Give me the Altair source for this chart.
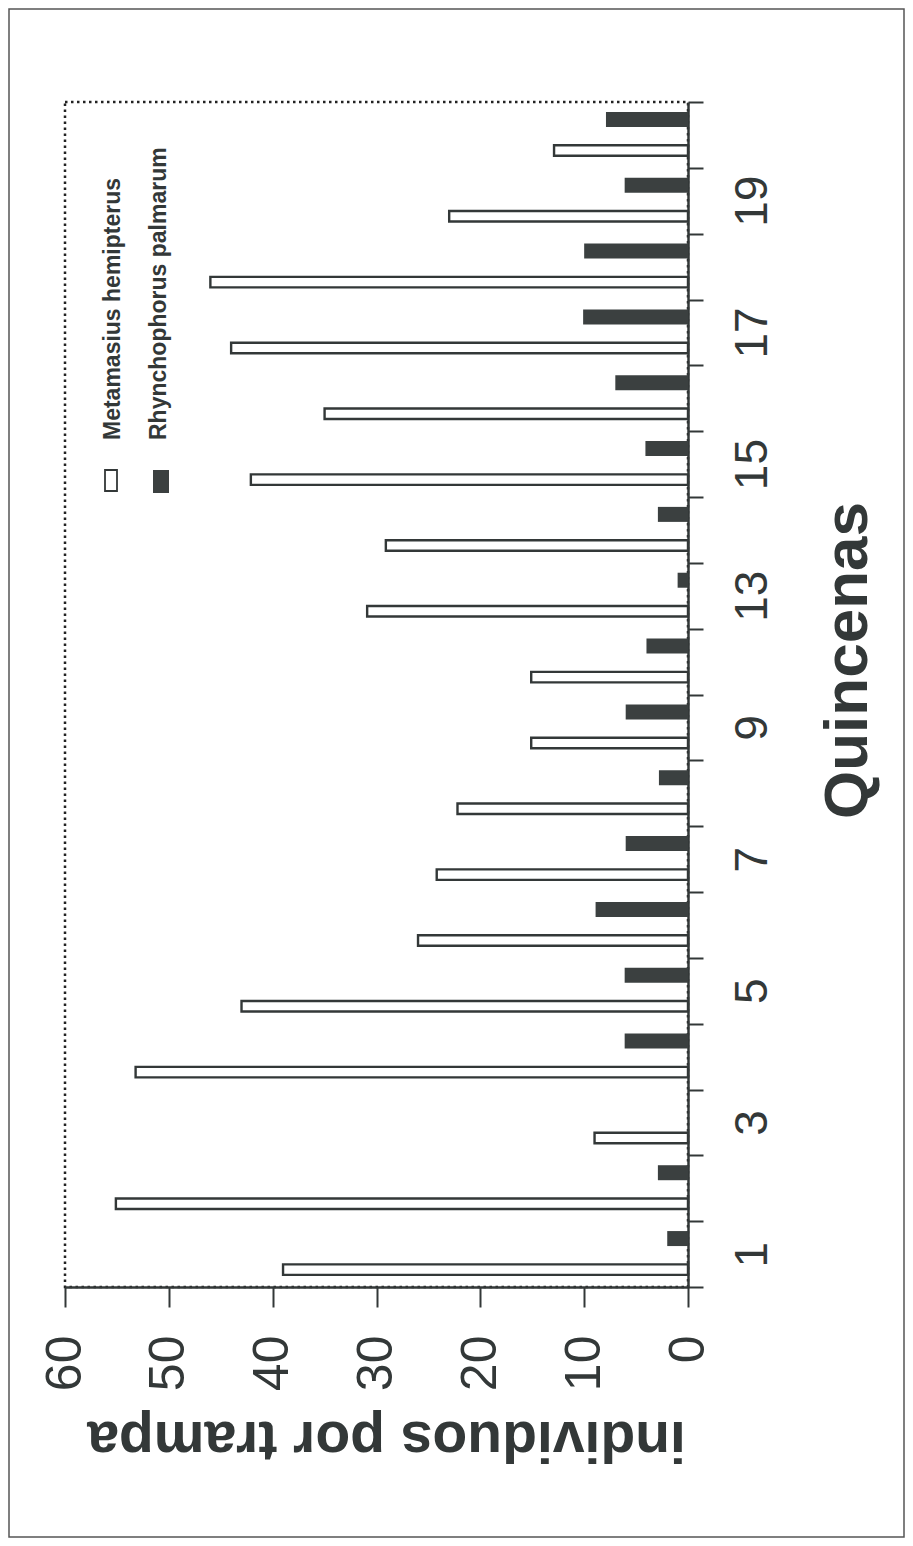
import altair as alt
import pandas as pd

# ---- data ----
quincenas = list(range(1, 21))
metamasius = [39.0, 55.1, 9.0, 53.2, 43.0, 26.0, 24.2, 22.2, 15.1, 15.1,
              0, 0, 30.9, 29.1, 42.1, 35.0, 44.0, 46.0, 23.0, 12.9]
rhynchophorus = [2.0, 2.9, 0, 6.1, 6.1, 8.9, 6.0, 2.8, 6.0, 4.0,
                 0, 0, 1.0, 2.9, 4.1, 7.0, 10.1, 10.0, 6.1, 7.9]
series = ["Metamasius hemipterus", "Rhynchophorus palmarum"]
value_ticks = [0, 10, 20, 30, 40, 50, 60]

FONT = "Liberation Sans, Arial, Helvetica, sans-serif"
INK = "#333838"
DARK = "#3b4040"
W, H = 623, 1185

df = pd.DataFrame({
    "quincena": quincenas * 2,
    "valor": metamasius + rhynchophorus,
    "especie": [series[0]] * len(quincenas) + [series[1]] * len(quincenas),
})
legend_df = pd.DataFrame({"especie": series})
frame_df = pd.DataFrame({"k": [0]})

x_enc = alt.X(
    "valor:Q",
    scale=alt.Scale(domain=[0, 60], reverse=True, nice=False, zero=True),
    axis=alt.Axis(
        values=value_ticks, grid=False,
        tickSize=20, tickWidth=2, tickColor=INK,
        domainColor=INK, domainWidth=2.5,
        labelAngle=270, labelAlign="right", labelBaseline="middle",
        labelFontSize=50, labelFont=FONT, labelColor=INK, labelPadding=28,
        labelOverlap=False, labelFlush=False,
        title="individuos por trampa", titleAngle=180, titleFontSize=57,
        titleFont=FONT, titleFontWeight="bold", titleColor=INK,
        titleX=321, titleY=134, titleAlign="center", titleBaseline="alphabetic",
    ),
)
y_enc = alt.Y(
    "quincena:O", sort="descending",
    scale=alt.Scale(paddingInner=0, paddingOuter=0),
    axis=alt.Axis(
        orient="right", grid=False, tickBand="extent",
        tickSize=15, tickWidth=2, tickColor=INK,
        domainColor=INK, domainWidth=2.5,
        labelExpr="datum.value % 2 == 1 ? datum.label : ''",
        labelAngle=270, labelAlign="center", labelBaseline="top",
        labelFontSize=46, labelFont=FONT, labelColor=INK, labelPadding=27,
        labelOverlap=False,
        title="Quincenas", titleAngle=270, titleFontSize=62, titleFont=FONT,
        titleFontWeight="bold", titleColor=INK,
        titleX=178, titleY=558, titleAlign="center", titleBaseline="alphabetic",
    ),
)
yoff_enc = alt.YOffset(
    "especie:N",
    scale=alt.Scale(domain=[series[1], series[0]], paddingInner=0.5, paddingOuter=0.31),
)

base = alt.Chart(df).encode(x=x_enc, y=y_enc, yOffset=yoff_enc)

white_bars = base.transform_filter(
    (alt.datum.especie == series[0]) & (alt.datum.valor > 0)
).mark_bar(fill="white", stroke=INK, strokeWidth=2.4, size=10.5)

dark_bars = base.transform_filter(
    (alt.datum.especie == series[1]) & (alt.datum.valor > 0)
).mark_bar(fill=DARK, size=15)

# manual legend (rotated like the rest of the figure)
leg_box_white = alt.Chart(legend_df).transform_filter(
    alt.datum.especie == series[0]
).mark_rect(fill="white", stroke=INK, strokeWidth=1.8).encode(
    x=alt.value(40), x2=alt.value(52), y=alt.value(368), y2=alt.value(389)
)
leg_box_dark = alt.Chart(legend_df).transform_filter(
    alt.datum.especie == series[1]
).mark_rect(fill=DARK).encode(
    x=alt.value(88), x2=alt.value(104), y=alt.value(368), y2=alt.value(391)
)
leg_text_1 = alt.Chart(legend_df).transform_filter(
    alt.datum.especie == series[0]
).mark_text(angle=270, align="left", baseline="alphabetic", fontSize=23,
            fontWeight="bold", font=FONT, color=INK).encode(
    text="especie:N", x=alt.value(55), y=alt.value(338)
)
leg_text_2 = alt.Chart(legend_df).transform_filter(
    alt.datum.especie == series[1]
).mark_text(angle=270, align="left", baseline="alphabetic", fontSize=23,
            fontWeight="bold", font=FONT, color=INK).encode(
    text="especie:N", x=alt.value(101), y=alt.value(338)
)

# scanned page frame
frame = alt.Chart(frame_df).mark_rect(
    fill="white", fillOpacity=0, stroke="#555", strokeWidth=1.5
).encode(
    x=alt.value(-56), x2=alt.value(W + 216), y=alt.value(-93), y2=alt.value(H + 250)
)

chart = alt.layer(
    frame, white_bars, dark_bars, leg_box_white, leg_box_dark, leg_text_1, leg_text_2
).properties(
    width=W, height=H,
    autosize=alt.AutoSizeParams(type="none"),
    padding={"left": 57, "top": 94, "right": 217, "bottom": 251},
    background="white",
).configure(
    font=FONT
).configure_view(
    stroke="#222222", strokeDash=[2.5, 3.5], strokeWidth=2.5, strokeOpacity=1
)

chart.save("out.html", embed_options={"renderer": "svg", "actions": False})
